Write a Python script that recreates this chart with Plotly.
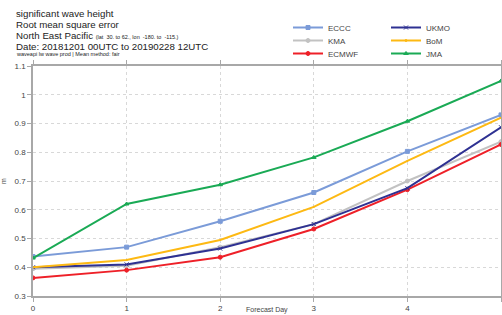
import plotly.graph_objects as go

days = [0, 1, 2, 3, 4, 5]
eccc = [0.437, 0.470, 0.560, 0.660, 0.803, 0.930]
ukmo = [0.400, 0.410, 0.465, 0.550, 0.675, 0.887]
kma = [0.395, 0.405, 0.470, 0.550, 0.700, 0.837]
bom = [0.400, 0.425, 0.495, 0.610, 0.770, 0.920]
ecmwf = [0.363, 0.390, 0.435, 0.533, 0.670, 0.827]
jma = [0.432, 0.620, 0.687, 0.782, 0.908, 1.048]

W, H = 502, 315
ML, MR, MT, MB = 33, 1, 66, 19

# name, values, colour, marker, legend id, legend text pixel x, row pixel y
series = [
    ("ECCC", eccc, "#7b9bd8", "square", "legend", 328, 25),
    ("KMA", kma, "#c2c2c2", "circle", "legend2", 328, 38),
    ("ECMWF", ecmwf, "#ee2028", "circle", "legend3", 328, 51),
    ("UKMO", ukmo, "#2e3192", "x-thin", "legend4", 426, 25),
    ("BoM", bom, "#fdb913", "circle", "legend5", 426, 38),
    ("JMA", jma, "#1aaa55", "triangle-up", "legend6", 426, 51),
]

font = "Liberation Sans, Arial, sans-serif"
fig = go.Figure()
legends = {}
for name, vals, col, sym, lg, lx, ly in series:
    msize = 4
    if name == "BoM":
        msize = 1
    fig.add_trace(go.Scatter(
        x=days, y=vals, name=name, mode="lines+markers",
        line=dict(color=col, width=2),
        marker=dict(symbol=sym, size=msize, color=col, line=dict(color=col, width=1)),
        legend=lg, showlegend=True,
    ))
    legends[lg] = dict(
        x=(lx - 40) / W, y=1 - (ly - 12) / H, xref="container", yref="container",
        xanchor="left", yanchor="top", bgcolor="rgba(0,0,0,0)",
        font=dict(size=8, color="#444", family=font), itemwidth=30, visible=True,
    )

fig.update_layout(
    width=W, height=H, showlegend=True,
    margin=dict(l=ML, r=MR, t=MT, b=MB, autoexpand=False),
    paper_bgcolor="white", plot_bgcolor="white",
    font=dict(family=font, size=8, color="#444"),
    xaxis=dict(range=[0, 5], dtick=1, showgrid=True, gridcolor="#d8d8d8", griddash="dot",
               showline=True, linecolor="#a8a8a8", linewidth=1.5, mirror="ticks",
               ticks="outside", ticklen=4, tickcolor="#a8a8a8", zeroline=False,
               automargin=False, tickfont=dict(size=8, color="#444")),
    yaxis=dict(range=[0.3, 1.1], dtick=0.1, showgrid=True, gridcolor="#d8d8d8", griddash="dot",
               showline=True, linecolor="#a8a8a8", linewidth=1.5, mirror="ticks",
               ticks="outside", ticklen=4, tickcolor="#a8a8a8", zeroline=False,
               automargin=False,
               title=dict(text="m", font=dict(size=7, color="#444"), standoff=12),
               tickfont=dict(size=8, color="#444")),
    **legends,
)

W_plot = W - ML - MR
H_plot = H - MT - MB


def px_x(p):
    return (p - ML) / W_plot


def px_y(p):
    return 1 + (MT - p) / H_plot


title_lines = [
    ("significant wave height", 9.7, 14),
    ("Root mean square error", 9.7, 25),
    ("North East Pacific <span style='font-size:5.5px'>(lat  30. to 62., lon  -180. to  -115.)</span>", 9.7, 35),
    ("Date: 20181201 00UTC to 20190228 12UTC", 9.7, 46),
    ("waveapi lw wave prod | Mean method: fair", 5.5, 54),
]
for t, s, yy in title_lines:
    fig.add_annotation(text=t, x=px_x(14), y=px_y(yy),
                       xref="paper", yref="paper", xanchor="left", yanchor="middle",
                       showarrow=False, font=dict(size=s, family=font, color="#222"))

fig.add_annotation(text="Forecast Day", x=px_x(267), y=px_y(310), xref="paper", yref="paper",
                   xanchor="center", yanchor="middle", showarrow=False,
                   font=dict(size=7, family=font, color="#444"))

fig.write_html("out.html", config={"displayModeBar": False},
               post_script="document.body.style.margin='0px';document.body.style.overflow='hidden';")
